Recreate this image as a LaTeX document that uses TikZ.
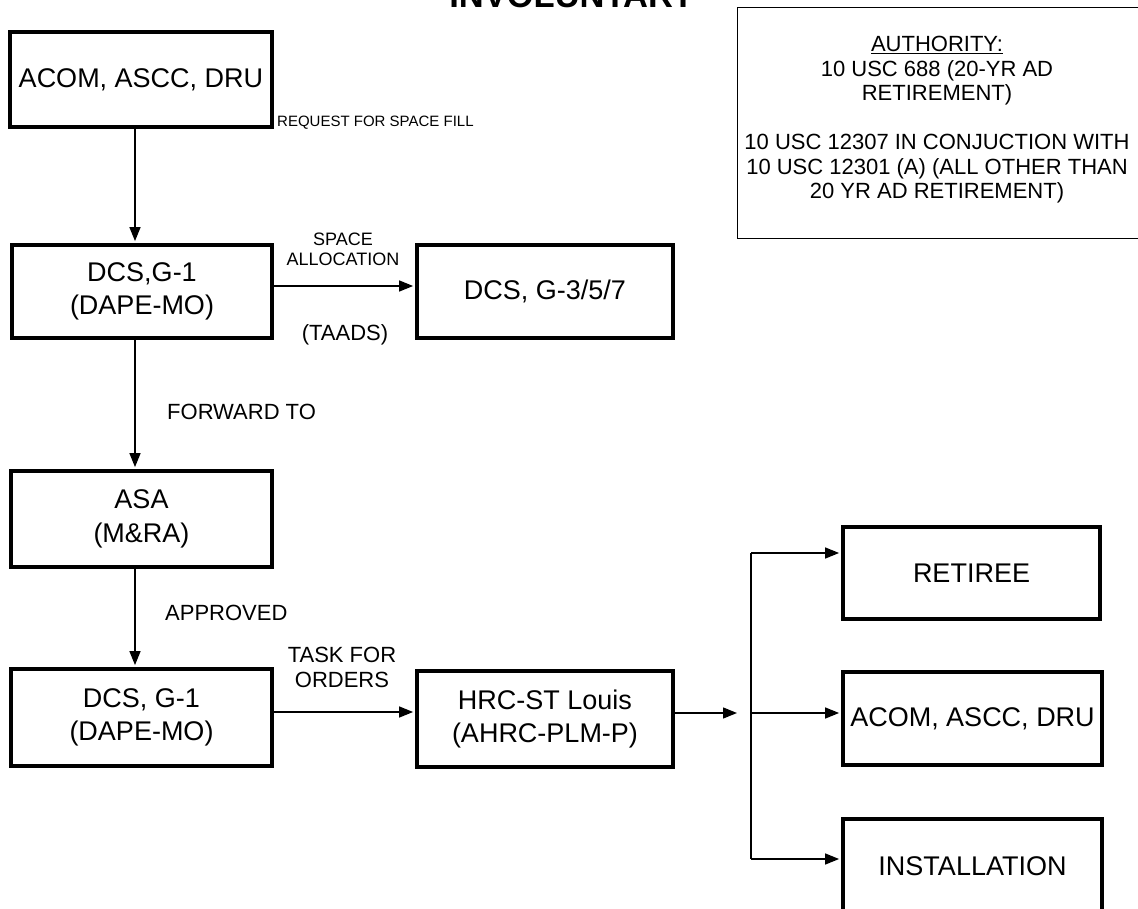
\documentclass[tikz,border=0pt]{standalone}
\usepackage{fontspec}
\setmainfont{Liberation Sans}
\usetikzlibrary{arrows.meta}
\newcommand{\boxfont}{\fontsize{27}{33.5}\selectfont}
\newcommand{\lblfont}{\fontsize{22}{25}\selectfont}
\begin{document}
\begin{tikzpicture}[x=1pt,y=-1pt,
  stepbox/.style={draw, line width=4.8pt, inner sep=0pt, align=center, font=\boxfont},
  arr/.style={-{Triangle[length=14pt,width=11pt]}, line width=1.4pt, shorten >=1.5pt},
  plain/.style={line width=1.4pt},
  lbl/.style={inner sep=0pt, align=center, font=\lblfont}]
\useasboundingbox (0,0) rectangle (1138,909);
% title
\node[font=\bfseries\fontsize{34.5}{40}\selectfont, anchor=base, inner sep=0pt] (title) at (572,8) {INVOLUNTARY};
% authority
\node[draw, line width=1.4pt, minimum width=420pt, minimum height=231pt, anchor=north west, inner sep=0pt] (auth) at (737,7) {};
\node[inner sep=0pt, align=center, font=\fontsize{22}{24.5}\selectfont] (authtxt) at (937,120) {\underline{AUTHORITY:}\\10 USC 688 (20-YR AD\\RETIREMENT)\\[24.5pt]10 USC 12307 IN CONJUCTION WITH\\10 USC 12301 (A) (ALL OTHER THAN\\20 YR AD RETIREMENT)};
% boxes
\node[stepbox, minimum width=262pt, minimum height=95pt] (A) at (141,79.5) {ACOM, ASCC, DRU};
\node[stepbox, minimum width=260pt, minimum height=93pt] (B) at (142,291.5) {DCS,G-1\\(DAPE-MO)};
\node[stepbox, minimum width=256pt, minimum height=93pt] (C) at (545,291.5) {DCS, G-3/5/7};
\node[stepbox, minimum width=261pt, minimum height=96pt] (D) at (141.5,519) {ASA\\(M\&RA)};
\node[stepbox, minimum width=261pt, minimum height=97pt] (E) at (141.5,717.5) {DCS, G-1\\(DAPE-MO)};
\node[stepbox, minimum width=256pt, minimum height=96pt] (H) at (545,719) {HRC-ST Louis\\(AHRC-PLM-P)};
\node[stepbox, minimum width=257pt, minimum height=92pt] (R) at (971.5,573) {RETIREE};
\node[stepbox, minimum width=259pt, minimum height=93pt] (M) at (972.5,718.5) {ACOM, ASCC, DRU};
\node[stepbox, minimum width=259pt, minimum height=95pt] (I) at (972.5,866.5) {INSTALLATION};
% helper coordinates
\coordinate (v) at (135,0);
\coordinate (hb) at (0,286);
\coordinate (he) at (0,712);
\coordinate (tip) at (737,713);
\coordinate (jt) at (751,553);
\coordinate (jm) at (751,713);
\coordinate (jb) at (751,859);
% connectors
\draw[arr] (A.south -| v) -- (B.north -| v);
\draw[arr] (B.east |- hb) -- (C.west |- hb);
\draw[arr] (B.south -| v) -- (D.north -| v);
\draw[arr] (D.south -| v) -- (E.north -| v);
\draw[arr] (E.east |- he) -- (H.west |- he);
\draw[arr, shorten >=0pt] (H.east |- tip) -- (tip);
\draw[plain] (jt) -- (jb);
\draw[arr] (jt) -- (R.west |- jt);
\draw[arr] (jm) -- (M.west |- jm);
\draw[arr] (jb) -- (I.west |- jb);
% labels
\node[lbl, anchor=west, font=\fontsize{15}{18}\selectfont] (lreq) at (277,123) {REQUEST FOR SPACE FILL};
\node[lbl, font=\fontsize{18}{20}\selectfont] (lspace) at (343,249) {SPACE\\ALLOCATION};
\node[lbl] (ltaads) at (345,335) {(TAADS)};
\node[lbl, anchor=west] (lfwd) at (167,412) {FORWARD TO};
\node[lbl, anchor=west] (lapp) at (165,613) {APPROVED};
\node[lbl] (ltask) at (342,667.5) {TASK FOR\\ORDERS};
\end{tikzpicture}
\end{document}
